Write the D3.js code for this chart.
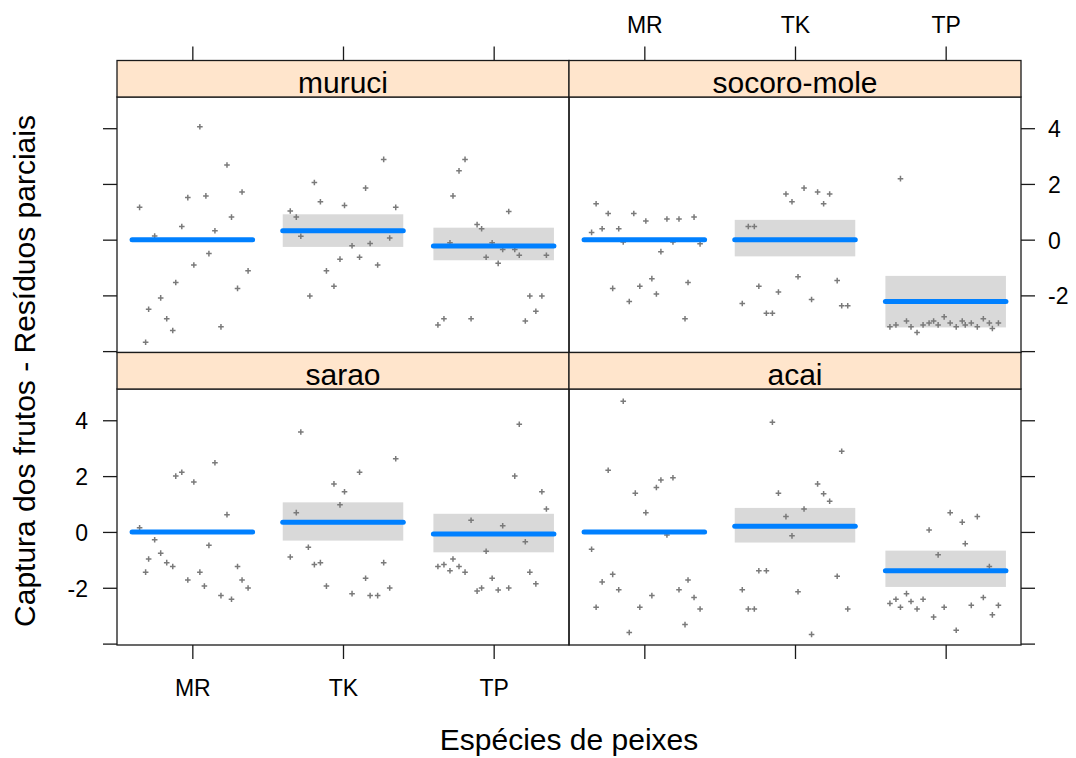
<!DOCTYPE html>
<meta charset='utf-8'>
<head>
    <title>Residuos parciais</title>
    <script src='https://cdn.jsdelivr.net/npm/d3@7/dist/d3.min.js'></script>
</head>

<style>
    body { margin: 0; background: #fff; }
    text { font-family: 'Liberation Sans', Arial, sans-serif; fill: #000; }
    .res { stroke: #7a7a7a; stroke-width: 1.5px; fill: none; }
    .fit { stroke: #0080ff; stroke-width: 5px; stroke-linecap: round; }
    .band { fill: #d9d9d9; }
    .frame { fill: none; stroke: #1a1a1a; stroke-width: 1.3px; }
    .strip { fill: #ffe5cc; stroke: #1a1a1a; stroke-width: 1.3px; }
</style>

<svg></svg>

<script>
    var vWidth = 1076;
    var vHeight = 758;

    var vPanels = ['muruci', 'socoro-mole', 'sarao', 'acai'];
    var vSpecies = ['MR', 'TK', 'TP'];
    var vYTicks = [-4, -2, 0, 2, 4];
    var vYLabels = ['', '-2', '0', '2', '4'];

    // effect estimates and confidence limits (MR is the reference level)
    var vFit = [[0, 0.32, -0.23], [0, 0, -2.22], [0, 0.35, -0.07], [0, 0.20, -1.39]];
    var vLower = [[null, -0.26, -0.74], [null, -0.60, -3.15], [null, -0.31, -0.73], [null, -0.38, -1.97]];
    var vUpper = [[null, 0.91, 0.43], [null, 0.71, -1.30], [null, 1.06, 0.65], [null, 0.86, -0.67]];

    // partial residuals: [jittered species position, residual]
    var vResMuruci = [
        [0.65, 1.16], [0.75, 0.13], [1.05, 4.05], [1.23, 2.68], [0.97, 1.51], [1.09, 1.57], [1.33, 1.71],
        [0.93, 0.47], [1.26, 0.81], [1.15, 0.32], [1.11, -0.50], [1.01, -0.91], [1.37, -1.12], [0.89, -1.54],
        [1.30, -1.75], [0.79, -2.09], [0.71, -2.50], [0.83, -2.84], [0.87, -3.26], [1.19, -3.13], [0.69, -3.68],
        [1.81, 2.05], [1.85, 1.36], [2.01, 1.23], [1.65, 1.03], [1.69, 0.81], [1.72, 0.12], [1.98, -0.70],
        [1.89, -1.12], [1.94, -1.67], [1.78, -2.02], [2.27, 2.88], [2.15, 1.85], [2.35, 1.16], [2.31, 0.06],
        [2.06, -0.22], [2.18, -0.14], [2.11, -0.63], [2.23, -0.91],
        [2.81, 2.88], [2.77, 2.47], [2.73, 1.57], [3.10, 1.01], [2.89, 0.54], [2.92, 0.39], [2.71, -0.11],
        [2.99, -0.11], [3.06, -0.35], [3.14, -0.35], [2.95, -0.63], [3.17, -0.56], [3.03, -0.85], [3.35, -0.56],
        [3.24, -2.02], [3.32, -2.02], [3.28, -2.57], [3.21, -2.92], [2.85, -2.84], [2.67, -2.84], [2.63, -3.06]
    ];
    var vResSocoro = [
        [0.68, 1.29], [0.76, 0.94], [0.65, 0.26], [0.72, 0.39], [0.83, 0.39], [0.93, 0.94], [1.01, 0.67],
        [1.15, 0.74], [1.23, 0.74], [1.33, 0.81], [0.86, -0.08], [1.19, -0.08], [1.37, -0.15], [1.11, -0.43],
        [1.05, -1.40], [0.97, -1.67], [0.79, -1.75], [1.29, -1.54], [0.90, -2.22], [1.08, -1.95], [1.27, -2.84],
        [1.94, 1.64], [1.98, 1.36], [1.69, 0.47], [1.73, 0.47], [2.02, -1.33], [1.76, -1.67], [1.89, -1.88],
        [1.65, -2.29], [1.81, -2.64], [1.85, -2.64], [2.06, 1.85], [2.15, 1.71], [2.23, 1.64], [2.19, 1.29],
        [2.28, -1.47], [2.11, -2.15], [2.31, -2.37], [2.35, -2.37],
        [2.70, 2.19], [2.63, -3.13], [2.67, -3.06], [2.74, -2.92], [2.77, -3.13], [2.81, -3.33], [2.85, -3.06],
        [2.89, -2.99], [2.92, -2.92], [2.95, -3.06], [2.99, -2.77], [3.03, -2.99], [3.07, -3.13], [3.11, -2.92],
        [3.13, -3.06], [3.17, -2.99], [3.21, -3.13], [3.25, -2.84], [3.29, -2.99], [3.31, -3.19], [3.35, -2.99]
    ];
    var vResSarao = [
        [0.65, 0.15], [0.89, 2.00], [0.93, 2.14], [1.01, 1.79], [1.15, 2.48], [1.23, 0.62], [0.75, -0.28],
        [1.11, -0.48], [0.71, -0.97], [0.79, -0.76], [0.83, -1.10], [0.87, -1.24], [0.69, -1.44], [0.97, -1.72],
        [1.05, -1.44], [1.08, -1.94], [1.30, -1.24], [1.33, -1.72], [1.37, -2.01], [1.19, -2.28], [1.26, -2.41],
        [1.72, 3.58], [1.94, 1.72], [2.01, 1.44], [1.98, 0.97], [1.69, 0.69], [1.77, -0.55], [1.65, -0.90],
        [1.81, -1.17], [1.85, -1.10], [1.89, -1.94], [2.11, 2.14], [2.35, 2.62], [2.27, -1.10], [2.15, -1.66],
        [2.06, -2.21], [2.18, -2.28], [2.23, -2.28], [2.31, -2.01],
        [3.17, 3.86], [3.14, 2.00], [3.32, 1.44], [3.35, 0.82], [2.85, 0.42], [3.06, 0.22], [3.21, -0.35],
        [2.95, -0.69], [2.63, -1.24], [2.67, -1.17], [2.73, -0.97], [2.71, -1.39], [2.77, -1.24], [2.81, -1.44],
        [3.24, -1.44], [3.28, -1.86], [2.99, -1.66], [2.89, -2.12], [2.92, -2.01], [3.03, -2.08], [3.10, -2.01]
    ];
    var vResAcai = [
        [0.86, 4.68], [0.76, 2.21], [0.94, 1.39], [1.08, 1.59], [1.11, 1.86], [1.19, 1.94], [1.01, 0.69],
        [1.15, -0.11], [0.65, -0.62], [0.79, -1.52], [0.72, -1.79], [0.83, -2.07], [0.68, -2.70], [0.97, -2.70],
        [1.05, -2.28], [0.90, -3.60], [1.23, -2.07], [1.29, -1.72], [1.33, -2.35], [1.37, -2.76], [1.27, -3.32],
        [1.85, 3.93], [1.89, 1.39], [1.94, 0.55], [1.98, -0.14], [1.76, -1.39], [1.81, -1.39], [1.65, -2.07],
        [1.69, -2.76], [1.73, -2.76], [2.02, -2.14], [2.06, 0.82], [2.31, 2.89], [2.15, 1.72], [2.19, 1.37],
        [2.23, 1.10], [2.28, -1.59], [2.35, -2.76], [2.11, -3.67],
        [3.03, 0.69], [3.11, 0.35], [3.21, 0.55], [2.89, 0.07], [3.13, -0.42], [2.95, -0.82], [3.29, -1.24],
        [2.63, -2.56], [2.67, -2.41], [2.70, -2.70], [2.74, -2.21], [2.77, -2.49], [2.81, -2.76], [2.85, -2.41],
        [2.92, -3.05], [2.99, -2.70], [3.07, -3.52], [3.17, -2.63], [3.25, -2.35], [3.31, -2.97], [3.35, -2.63]
    ];
    var vResiduals = [vResMuruci, vResSocoro, vResSarao, vResAcai];

    // panel grid
    var vLeft = 117, vPanelW = 452;
    var vRowTop = [60.5, 352.5], vStripH = 36.5, vRowBottom = [352.5, 645];
    var vTick = 14;
    var vFont = 30, vTickFont = 23;

    var svg = d3.select('svg').attr('width', vWidth).attr('height', vHeight);

    function styleAxis(g) {
        g.attr('font-size', vTickFont).attr('font-family', null);
        g.select('.domain').remove();
        g.selectAll('.tick line').attr('stroke', '#1a1a1a').attr('stroke-width', 1.3);
        g.selectAll('.tick text').attr('fill', '#000');
    }

    vPanels.forEach(function (name, p) {
        var row = Math.floor(p / 2), col = p % 2;
        var x0 = vLeft + col * vPanelW;
        var yTop = vRowTop[row] + vStripH, yBot = vRowBottom[row];

        var x = d3.scaleLinear().domain([0.5, 3.5]).range([x0, x0 + vPanelW]);
        var y = d3.scaleLinear().domain([-4.05, 5.12]).range([yBot, yTop]);

        var g = svg.append('g');

        // confidence bands
        g.selectAll('rect.band').data(d3.range(3).filter(function (i) { return vLower[p][i] !== null; }))
            .enter().append('rect').attr('class', 'band')
            .attr('x', function (i) { return x(i + 0.6); })
            .attr('width', function (i) { return x(i + 1.4) - x(i + 0.6); })
            .attr('y', function (i) { return y(vUpper[p][i]); })
            .attr('height', function (i) { return y(vLower[p][i]) - y(vUpper[p][i]); });

        // residual crosses
        g.selectAll('path.res').data(vResiduals[p]).enter().append('path').attr('class', 'res')
            .attr('d', function (d) {
                var px = x(d[0]), py = y(d[1]), s = 2.8;
                return 'M' + (px - s) + ',' + py + 'H' + (px + s) + 'M' + px + ',' + (py - s) + 'V' + (py + s);
            });

        // fitted effects
        g.selectAll('line.fit').data(d3.range(3)).enter().append('line').attr('class', 'fit')
            .attr('x1', function (i) { return x(i + 0.6); })
            .attr('x2', function (i) { return x(i + 1.4); })
            .attr('y1', function (i) { return y(vFit[p][i]); })
            .attr('y2', function (i) { return y(vFit[p][i]); });

        // frame and strip
        g.append('rect').attr('class', 'frame')
            .attr('x', x0).attr('y', yTop).attr('width', vPanelW).attr('height', yBot - yTop);
        g.append('rect').attr('class', 'strip')
            .attr('x', x0).attr('y', vRowTop[row]).attr('width', vPanelW).attr('height', vStripH);
        g.append('text').attr('x', x0 + vPanelW / 2).attr('y', vRowTop[row] + 32)
            .attr('text-anchor', 'middle').attr('font-size', vFont).text(name);

        // y axes (alternating sides)
        if (col === 0) {
            svg.append('g').attr('transform', 'translate(' + x0 + ',0)')
                .call(d3.axisLeft(y).tickValues(vYTicks).tickSize(vTick).tickPadding(15)
                    .tickFormat(function (d, i) { return row === 1 ? vYLabels[i] : ''; }))
                .call(styleAxis).selectAll('.tick text').attr('dy', '0.37em');
        } else {
            svg.append('g').attr('transform', 'translate(' + (x0 + vPanelW) + ',0)')
                .call(d3.axisRight(y).tickValues(vYTicks).tickSize(vTick).tickPadding(13)
                    .tickFormat(function (d, i) { return row === 0 ? vYLabels[i] : ''; }))
                .call(styleAxis).selectAll('.tick text').attr('dy', '0.37em');
        }

        // x axes (top on first row, bottom on second row)
        if (row === 0) {
            svg.append('g').attr('transform', 'translate(0,' + vRowTop[row] + ')')
                .call(d3.axisTop(x).tickValues([1, 2, 3]).tickSize(vTick).tickPadding(13.5)
                    .tickFormat(function (d) { return col === 1 ? vSpecies[d - 1] : ''; }))
                .call(styleAxis);
        } else {
            svg.append('g').attr('transform', 'translate(0,' + yBot + ')')
                .call(d3.axisBottom(x).tickValues([1, 2, 3]).tickSize(vTick).tickPadding(21)
                    .tickFormat(function (d) { return col === 0 ? vSpecies[d - 1] : ''; }))
                .call(styleAxis);
        }
    });

    // axis titles
    svg.append('text').attr('x', vLeft + vPanelW).attr('y', 749.5)
        .attr('text-anchor', 'middle').attr('font-size', vFont).text('Espécies de peixes');
    svg.append('text').attr('transform', 'translate(35,' + ((vRowTop[0] + vStripH + vRowBottom[1]) / 2) + ') rotate(-90)')
        .attr('text-anchor', 'middle').attr('font-size', vFont).text('Captura dos frutos - Resíduos parciais');
</script>
